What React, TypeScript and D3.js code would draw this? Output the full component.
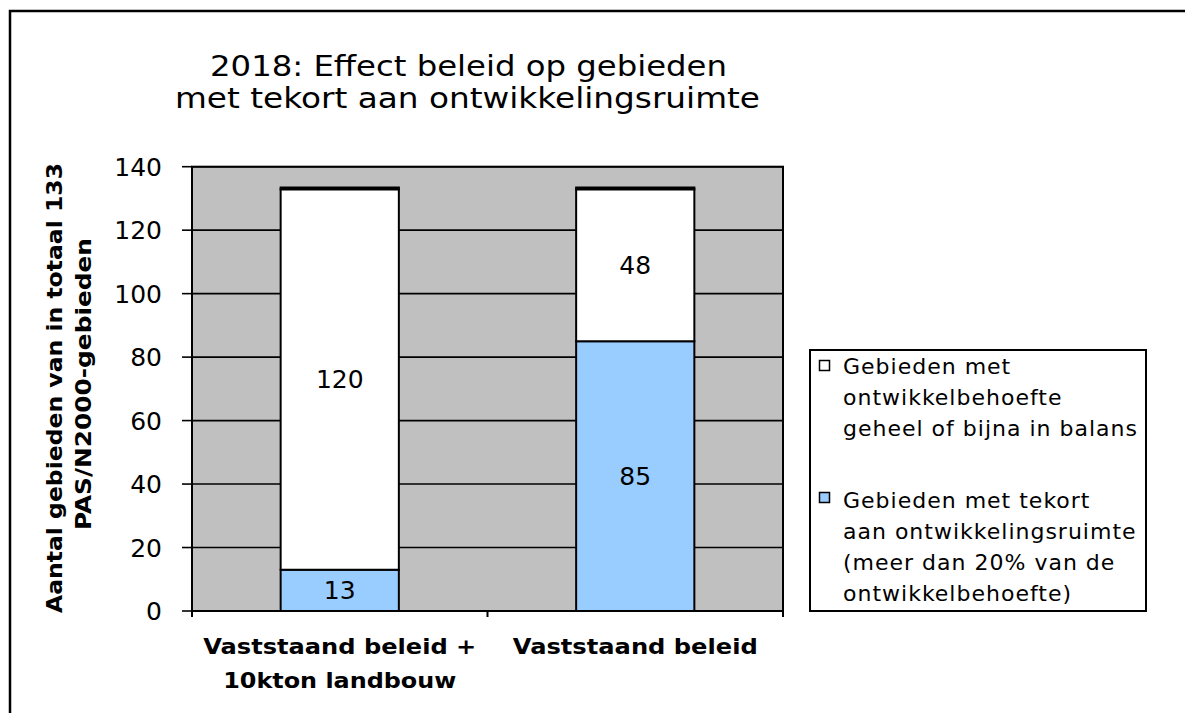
import React from "react";
import * as d3 from "d3";

const categories: string[][] = [["Vaststaand beleid +", "10kton landbouw"], ["Vaststaand beleid"]];
const tekortValues = [13, 85];
const balansValues = [120, 48];
const yTicks = [0, 20, 40, 60, 80, 100, 120, 140];
const titleLines = ["2018: Effect beleid op gebieden", "met tekort aan ontwikkelingsruimte"];
const yTitleLines = ["Aantal gebieden van in totaal 133", "PAS/N2000-gebieden"];
const legendBalans = ["Gebieden met", "ontwikkelbehoefte", "geheel of bijna in balans"];
const legendTekort = ["Gebieden met tekort", "aan ontwikkelingsruimte", "(meer dan 20% van de", "ontwikkelbehoefte)"];

const GRAY = "#C0C0C0";
const BLUE = "#99CCFF";
const FONT = "'DejaVu Sans', Verdana, sans-serif";

export default function App() {
  const W = 1185, H = 713;
  const left = 192, right = 783, top = 166.7, bottom = 611;
  const x = d3.scaleBand<number>().domain([0, 1]).range([left, right]).paddingInner(0.6).paddingOuter(0.3);
  const y = d3.scaleLinear().domain([0, 140]).range([bottom, top]);
  const bw = x.bandwidth();
  const step = x.step();

  const catWidths = [[273, 233], [245]];

  return (
    <svg width={W} height={H} style={{ position: "absolute", left: 0, top: 0, background: "#fff" }} fontFamily={FONT}>
      <rect x={10} y={11} width={1300} height={900} fill="#fff" stroke="#000" strokeWidth={2.5} />
      {/* title */}
      <text x={468.5} y={76} textAnchor="middle" fontSize={28} textLength={517} lengthAdjust="spacingAndGlyphs">{titleLines[0]}</text>
      <text x={467.5} y={108} textAnchor="middle" fontSize={28} textLength={585} lengthAdjust="spacingAndGlyphs">{titleLines[1]}</text>

      {/* plot area */}
      <rect x={left} y={top} width={right - left} height={bottom - top} fill={GRAY} stroke="none" />
      {yTicks.map((t) => (
        <line key={"g" + t} x1={left} x2={right} y1={y(t)} y2={y(t)} stroke="#000" strokeWidth={1.6} />
      ))}
      {yTicks.map((t) => (
        <line key={"t" + t} x1={182} x2={left} y1={y(t)} y2={y(t)} stroke="#000" strokeWidth={1.6} />
      ))}
      {yTicks.map((t) => (
        <text key={"l" + t} x={162} y={y(t) + 9} textAnchor="end" fontSize={25}>{t}</text>
      ))}

      {/* bars */}
      {tekortValues.map((v, i) => {
        const x0 = x(i)!;
        const b = balansValues[i];
        return (
          <g key={"bar" + i}>
            <rect x={x0} y={y(v)} width={bw} height={y(0) - y(v)} fill={BLUE} stroke="#000" strokeWidth={2} />
            <rect x={x0} y={y(v + b)} width={bw} height={y(v) - y(v + b)} fill="#fff" stroke="#000" strokeWidth={2} />
            <line x1={x0 - 1} x2={x0 + bw + 1} y1={y(v + b) - 0.5} y2={y(v + b) - 0.5} stroke="#000" strokeWidth={4} />
            <text x={x0 + bw / 2} y={(y(0) + y(v)) / 2 + 9} textAnchor="middle" fontSize={25}>{v}</text>
            <text x={x0 + bw / 2} y={(y(v) + y(v + b)) / 2 + 9} textAnchor="middle" fontSize={25}>{b}</text>
          </g>
        );
      })}

      {/* plot border */}
      <rect x={left} y={top} width={right - left} height={bottom - top} fill="none" stroke="#000" strokeWidth={2} />
      {/* x axis ticks */}
      {[0, 1, 2].map((k) => (
        <line key={"xt" + k} x1={left + k * step} x2={left + k * step} y1={bottom} y2={bottom + 6} stroke="#000" strokeWidth={2} />
      ))}

      {/* category labels */}
      {categories.map((lines, i) =>
        lines.map((ln, j) => (
          <text key={"c" + i + j} x={x(i)! + bw / 2} y={654 + j * 34} textAnchor="middle" fontSize={22} fontWeight="bold"
            textLength={catWidths[i][j]} lengthAdjust="spacingAndGlyphs">{ln}</text>
        ))
      )}

      {/* y title */}
      <text transform="translate(62,388) rotate(-90)" textAnchor="middle" fontSize={22} fontWeight="bold" textLength={450} lengthAdjust="spacingAndGlyphs">{yTitleLines[0]}</text>
      <text transform="translate(91,384) rotate(-90)" textAnchor="middle" fontSize={22} fontWeight="bold" textLength={292} lengthAdjust="spacingAndGlyphs">{yTitleLines[1]}</text>

      {/* legend */}
      <rect x={810} y={350} width={336} height={261} fill="#fff" stroke="#000" strokeWidth={2} />
      <rect x={819.5} y={360.5} width={10} height={10} fill="#fff" stroke="#000" strokeWidth={1.5} />
      {legendBalans.map((ln, j) => (
        <text key={"lb" + j} x={843} y={374 + j * 31} fontSize={22} letterSpacing={1}>{ln}</text>
      ))}
      <rect x={819.5} y={492.5} width={10} height={10} fill={BLUE} stroke="#000" strokeWidth={1.5} />
      {legendTekort.map((ln, j) => (
        <text key={"lt" + j} x={843} y={508 + j * 31} fontSize={22} letterSpacing={1}>{ln}</text>
      ))}
    </svg>
  );
}
